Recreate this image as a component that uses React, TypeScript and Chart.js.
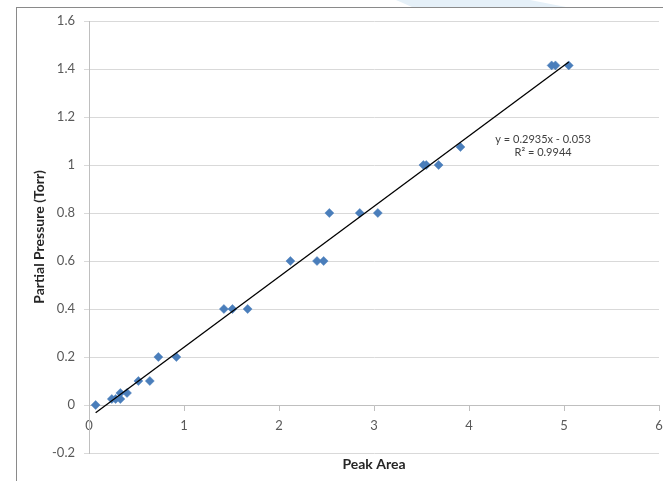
import React, { useEffect, useRef } from "react";
import { Chart, registerables } from "chart.js";

Chart.register(...registerables);

// Data
const peakArea = [0.07, 0.24, 0.28, 0.33, 0.33, 0.4, 0.52, 0.64, 0.73, 0.92, 1.42, 1.51, 1.67, 2.12, 2.4, 2.47, 2.53, 2.85, 3.04, 3.52, 3.55, 3.68, 3.91, 4.87, 4.91, 5.05];
const partialPressure = [0, 0.025, 0.025, 0.05, 0.025, 0.05, 0.1, 0.1, 0.2, 0.2, 0.4, 0.4, 0.4, 0.6, 0.6, 0.6, 0.8, 0.8, 0.8, 1.0, 1.0, 1.0, 1.075, 1.415, 1.415, 1.415];
const trendSlope = 0.2935;
const trendIntercept = -0.053;
const trendLabels = ["y = 0.2935x - 0.053", "R\u00b2 = 0.9944"];
const trendLabelAnchor = { x: 4.78, y: 1.108 };
const xTicks = [0, 1, 2, 3, 4, 5, 6];
const yTicks = [-0.2, 0, 0.2, 0.4, 0.6, 0.8, 1, 1.2, 1.4, 1.6];
const xTitle = "Peak Area";
const yTitle = "Partial Pressure (Torr)";

const FONT = "Lato, 'Open Sans', sans-serif";

const trendLabelPlugin = {
  id: "trendLabel",
  afterDatasetsDraw(chart: any) {
    const { ctx, scales } = chart;
    const px = scales.x.getPixelForValue(trendLabelAnchor.x);
    const py = scales.y.getPixelForValue(trendLabelAnchor.y);
    ctx.save();
    ctx.font = `11px ${FONT}`;
    ctx.fillStyle = "#404040";
    ctx.textAlign = "center";
    ctx.textBaseline = "middle";
    trendLabels.forEach((t, i) => ctx.fillText(t, px, py + i * 13));
    ctx.restore();
  },
};

export default function App() {
  const ref = useRef<HTMLCanvasElement | null>(null);

  useEffect(() => {
    if (!ref.current) return;
    const points = peakArea.map((x, i) => ({ x, y: partialPressure[i] }));
    const xMin = Math.min(...peakArea);
    const xMax = Math.max(...peakArea);
    const trend = [xMin, xMax].map((x) => ({ x, y: trendSlope * x + trendIntercept }));

    const chart = new Chart(ref.current, {
      type: "scatter",
      data: {
        datasets: [
          {
            type: "scatter",
            data: points,
            pointStyle: "rectRot",
            pointRadius: 4.5,
            backgroundColor: "#4a7ebb",
            borderColor: "#4a7ebb",
            borderWidth: 0.5,
            order: 2,
          },
          {
            type: "line",
            data: trend,
            borderColor: "#000000",
            borderWidth: 1.3,
            pointRadius: 0,
            fill: false,
            order: 1,
          } as any,
        ],
      },
      options: {
        responsive: false,
        animation: false,
        layout: { padding: { left: 0, top: 21, right: 8, bottom: 0 } },
        plugins: { legend: { display: false }, tooltip: { enabled: false } },
        scales: {
          x: {
            type: "linear",
            position: { y: 0 } as any,
            min: 0,
            max: 6,
            afterBuildTicks: (s: any) => {
              s.ticks = xTicks.map((v) => ({ value: v }));
            },
            afterFit: (s: any) => {
              s.paddingLeft = 0;
              s.paddingRight = 0;
            },
            ticks: {
              font: { family: FONT, size: 13 },
              color: "#595959",
              padding: 8,
              callback: (v: any) => String(v),
            },
            grid: { drawOnChartArea: false, drawTicks: true, tickLength: 5, color: "#bfbfbf" },
            border: { display: true, color: "#bfbfbf", width: 1 },
          },
          x2: {
            type: "linear",
            position: "bottom",
            display: true,
            ticks: { display: false },
            grid: { display: false, drawTicks: false },
            border: { display: false },
            afterFit: (s: any) => {
              s.height = 28;
              s.paddingLeft = 0;
              s.paddingRight = 0;
            },
            title: {
              display: true,
              text: xTitle,
              font: { family: FONT, size: 14, weight: "bold" },
              color: "#262626",
              padding: { top: 0, bottom: 8 },
            },
          },
          y: {
            type: "linear",
            min: -0.2,
            max: 1.6,
            afterBuildTicks: (s: any) => {
              s.ticks = yTicks.map((v) => ({ value: v }));
            },
            afterFit: (s: any) => {
              s.width = 89;
            },
            ticks: {
              font: { family: FONT, size: 13 },
              color: "#595959",
              padding: 9,
              callback: (v: any) => String(Number(Number(v).toFixed(2))),
            },
            grid: { color: "#d9d9d9", drawTicks: true, tickLength: 5 },
            border: { display: true, color: "#bfbfbf", width: 1 },
            title: {
              display: true,
              text: yTitle,
              font: { family: FONT, size: 14, weight: "bold" },
              color: "#262626",
              padding: { top: 31, bottom: 0 },
            },
          },
        },
      },
      plugins: [trendLabelPlugin],
    });
    return () => chart.destroy();
  }, []);

  return (
    <div
      style={{
        position: "fixed",
        left: 0,
        top: 0,
        width: 667,
        height: 481,
        background: "#ffffff",
        overflow: "hidden",
      }}
    >
      <div
        style={{
          position: "absolute",
          left: 0,
          top: 0,
          width: 667,
          height: 8,
          background: "#e5f0f8",
          clipPath: "polygon(396px 0, 530px 0, 566px 7px, 412px 7px)",
        }}
      />
      <div style={{ position: "absolute", left: 16, top: 7, width: 647, height: 1, background: "#8a8a8a" }} />
      <div style={{ position: "absolute", left: 16, top: 7, width: 1, height: 474, background: "#8a8a8a" }} />
      <canvas ref={ref} width={667} height={481} style={{ position: "absolute", left: 0, top: 0 }} />
    </div>
  );
}
